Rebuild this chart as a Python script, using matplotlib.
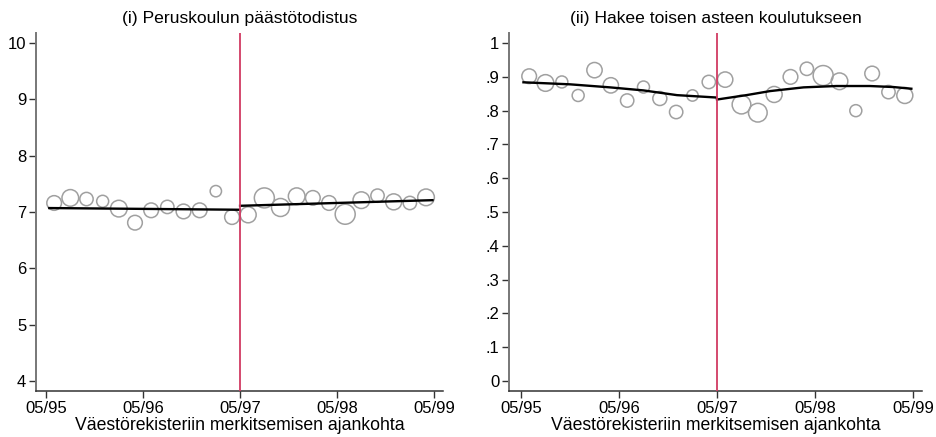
import numpy as np
import matplotlib.pyplot as plt

plt.rcParams['font.family'] = ['Liberation Sans', 'DejaVu Sans']

# kuukausia 05/95 jalkeen (kahden kuukauden ryhmat)
months = [1, 3, 5, 7, 9, 11, 13, 15, 17, 19, 21, 23,
          25, 27, 29, 31, 33, 35, 37, 39, 41, 43, 45, 47]

# (i) peruskoulun paastotodistus
grade = [7.16, 7.25, 7.23, 7.19, 7.06, 6.81, 7.03, 7.09, 7.01, 7.03, 7.37, 6.91,
         6.95, 7.25, 7.08, 7.28, 7.25, 7.16, 6.96, 7.21, 7.29, 7.18, 7.16, 7.26]
grade_w = [22, 25, 20, 18, 25, 22, 22, 20, 22, 22, 17, 22,
           24, 30, 27, 25, 22, 22, 30, 25, 20, 24, 20, 25]
grade_fit_x1 = [0.4, 23.9]
grade_fit_y1 = [7.07, 7.04]
grade_fit_x2 = [24.0, 47.8]
grade_fit_y2 = [7.11, 7.21]

# (ii) hakee toisen asteen koulutukseen
apply = [0.902, 0.882, 0.885, 0.845, 0.920, 0.875, 0.830, 0.870, 0.836, 0.796, 0.845, 0.885,
         0.892, 0.818, 0.794, 0.848, 0.900, 0.924, 0.904, 0.887, 0.800, 0.910, 0.855, 0.845]
apply_w = [22, 25, 18, 18, 23, 23, 20, 18, 21, 20, 17, 20,
           23, 28, 28, 24, 22, 20, 30, 25, 18, 22, 20, 24]
apply_fit_x1 = [0.3, 6, 10.9, 15.0, 19.1, 23.9]
apply_fit_y1 = [0.884, 0.878, 0.869, 0.860, 0.846, 0.839]
apply_fit_x2 = [24.0, 27.6, 30.5, 34.6, 38.6, 42.7, 45.6, 47.8]
apply_fit_y2 = [0.833, 0.846, 0.858, 0.869, 0.873, 0.873, 0.870, 0.865]

xticks = [0, 12, 24, 36, 48]
xticklabels = ['05/95', '05/96', '05/97', '05/98', '05/99']
cutoff = 24


def panel(ax, y, w, fx1, fy1, fx2, fy2, title):
    s = (np.array(w) / 3.0 * 0.72 * 2) ** 2
    ax.scatter(months, y, s=s, facecolors='none', edgecolors='#a0a0a0',
               linewidths=1.1, zorder=2)
    ax.plot(fx1, fy1, color='black', lw=1.7, zorder=3)
    ax.plot(fx2, fy2, color='black', lw=1.7, zorder=3)
    ax.axvline(cutoff, color='#d13a62', lw=1.3, zorder=4)
    ax.set_title(title, fontsize=12.6, pad=7)
    ax.set_xticks(xticks)
    ax.set_xticklabels(xticklabels)
    ax.set_xlabel('Väestörekisteriin merkitsemisen ajankohta', fontsize=12.7, labelpad=1)
    for sp in ['top', 'right']:
        ax.spines[sp].set_visible(False)
    ax.spines['left'].set_color('#777777')
    ax.spines['left'].set_linewidth(1.4)
    ax.spines['bottom'].set_color('#333333')
    ax.spines['bottom'].set_linewidth(1.1)
    ax.tick_params(direction='out', length=5, width=1, labelsize=12, pad=2,
                   color='#333333')


fig = plt.figure(figsize=(9.36, 4.37), dpi=100)
ax1 = fig.add_axes([0.0385, 0.1053, 0.4348, 0.8192])
ax2 = fig.add_axes([0.5438, 0.1053, 0.4412, 0.8192])

panel(ax1, grade, grade_w, grade_fit_x1, grade_fit_y1, grade_fit_x2, grade_fit_y2,
      '(i) Peruskoulun päästötodistus')
ax1.set_xlim(-1.24, 49.1)
ax1.set_ylim(3.82, 10.18)
ax1.set_yticks([4, 5, 6, 7, 8, 9, 10])

panel(ax2, apply, apply_w, apply_fit_x1, apply_fit_y1, apply_fit_x2, apply_fit_y2,
      '(ii) Hakee toisen asteen koulutukseen')
ax2.set_xlim(-1.47, 49.1)
ax2.set_ylim(-0.03, 1.03)
yt = [i / 10 for i in range(11)]
ax2.set_yticks(yt)
ax2.set_yticklabels(['0'] + ['.%d' % i for i in range(1, 10)] + ['1'])

plt.savefig('out.png', dpi=100)
